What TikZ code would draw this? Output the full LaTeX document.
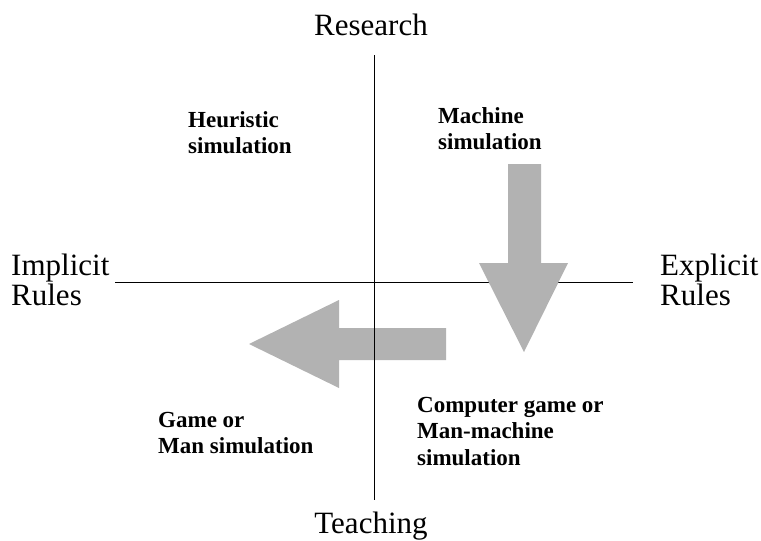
\documentclass[tikz,border=0pt]{standalone}
\usepackage{fontspec}
\setmainfont{Liberation Serif}
\definecolor{arrowgrey}{RGB}{178,178,178}
\begin{document}
\begin{tikzpicture}[x=1pt,y=-1pt,
  axislabel/.style={inner sep=0pt,anchor=base west,font=\fontsize{31}{30}\selectfont},
  quadlabel/.style={inner sep=0pt,anchor=base west,font=\fontsize{23}{26.5}\selectfont\bfseries},
  axisline/.style={draw=black,line width=1pt},
  bigarrow/.style={fill=arrowgrey,draw=none}]
  \useasboundingbox (0,0) rectangle (761,541);

  % leftward arrow (sits under the vertical axis)
  \fill[bigarrow] (446,328) -- (446,360) -- (339,360) -- (339,388) -- (249,344)
    -- (339,300) -- (339,328) -- cycle;

  % axes
  \coordinate (top) at (374,55);
  \coordinate (bottom) at (374,500);
  \coordinate (left) at (115,282);
  \coordinate (right) at (633,282);
  \draw[axisline] (top) -- (bottom);
  \draw[axisline] (left) -- (right);

  % downward arrow (covers the horizontal axis)
  \fill[bigarrow] (508,164) -- (541,164) -- (541,263) -- (568,263) -- (524,352)
    -- (479,263) -- (508,263) -- cycle;

  % axis end labels
  \node[axislabel,anchor=base] (research) at (371,35) {Research};
  \node[axislabel,anchor=base] (teaching) at (371,533) {Teaching};
  \node[axislabel] (implicit) at (11,275) {\begin{tabular}[t]{@{}l@{}}Implicit\\[-0.5pt]Rules\end{tabular}};
  \node[axislabel] (explicit) at (660,275) {\begin{tabular}[t]{@{}l@{}}Explicit\\[-0.5pt]Rules\end{tabular}};

  % quadrant labels
  \node[quadlabel] (heuristic) at (188,127) {\begin{tabular}[t]{@{}l@{}}Heuristic\\simulation\end{tabular}};
  \node[quadlabel] (machine) at (438,123) {\begin{tabular}[t]{@{}l@{}}Machine\\simulation\end{tabular}};
  \node[quadlabel] (game) at (158,427) {\begin{tabular}[t]{@{}l@{}}Game or\\Man simulation\end{tabular}};
  \node[quadlabel] (computer) at (417,412) {\begin{tabular}[t]{@{}l@{}}Computer game or\\Man-machine\\simulation\end{tabular}};
\end{tikzpicture}
\end{document}
